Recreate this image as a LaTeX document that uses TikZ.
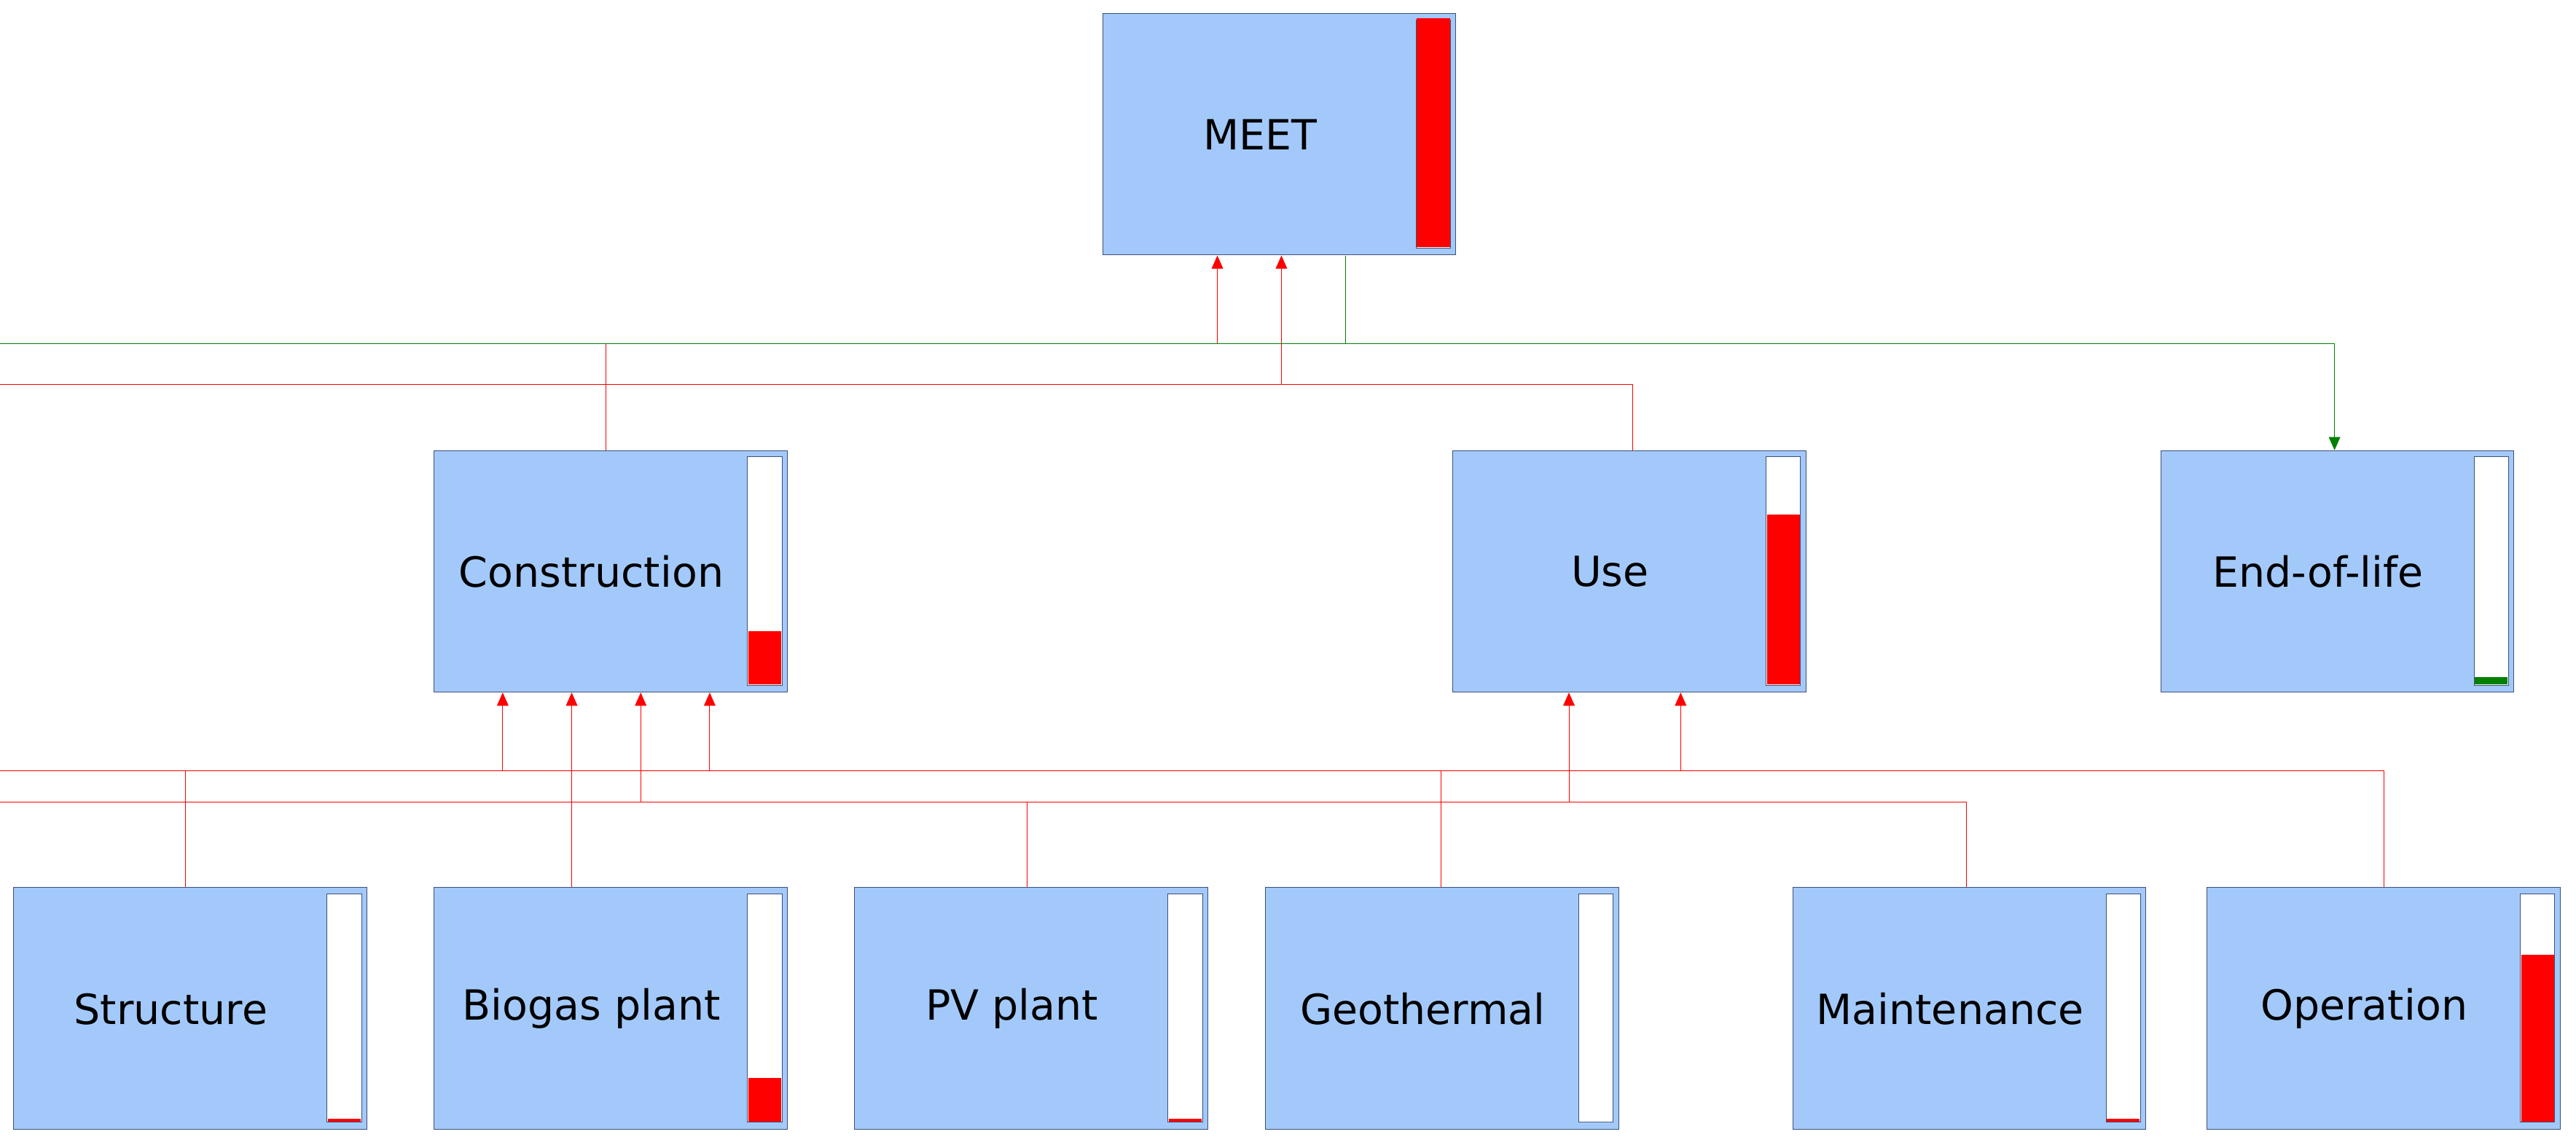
\documentclass[tikz,border=0pt]{standalone}
\usepackage{fontspec}
\setmainfont{DejaVu Sans}
\usetikzlibrary{arrows.meta}
\definecolor{boxfill}{RGB}{163,201,250}
\definecolor{boxline}{RGB}{60,80,120}
\definecolor{barred}{RGB}{255,0,0}
\definecolor{bargreen}{RGB}{0,128,0}
\tikzset{
  box/.style={draw=boxline,line width=0.6pt,fill=boxfill,minimum width=107.5mm,minimum height=73.5mm,inner sep=0pt,anchor=north west},
  lbl/.style={font=\fontsize{36}{40}\selectfont},
  barframe/.style={draw=boxline,line width=0.6pt,fill=white},
  link/.style={draw=barred,line width=0.6pt,-{Triangle[length=4mm,width=3.5mm]}},
  glink/.style={draw=bargreen,line width=0.6pt,-{Triangle[length=4mm,width=3.5mm]}}
}
% #1 name, #2 left x, #3 top y, #4 text, #5 fill-top y (bar), #6 colour
\newcommand{\blk}[6]{%
  \node[box] (#1) at (#2,#3) {};
  \draw[barframe] (#2+191,#3+4) rectangle (#2+212,#3+143);
  \fill[#6] (#2+191.5,#5) rectangle (#2+211.5,#3+142.5);
  \node[lbl] (#1t) at (#2+96,#3+74) {#4};
}
\begin{document}
\begin{tikzpicture}[x=0.5mm,y=-0.5mm]
\useasboundingbox (0,0) rectangle (1568,696.4);
\blk{meet}{671}{8}{MEET}{11}{barred}
\blk{cons}{264}{274}{Construction}{384}{barred}
\blk{use}{884}{274}{Use}{313}{barred}
\blk{eol}{1315}{274}{End-of-life}{412}{bargreen}
\blk{str}{8}{540}{Structure}{681}{barred}
\blk{bio}{264}{540}{Biogas plant}{656}{barred}
\blk{pv}{520}{540}{PV plant}{681}{barred}
\blk{geo}{770}{540}{Geothermal}{682.5}{white}
\blk{mai}{1091}{540}{Maintenance}{681}{barred}
\blk{ope}{1343}{540}{Operation}{581}{barred}
% coordinates
\coordinate (c1) at (369,274); \coordinate (m1) at (741,155.5);
\coordinate (c2) at (994,274); \coordinate (m2) at (780,155.5);
\coordinate (m3) at (819,155.5); \coordinate (e1) at (1421,274);
\coordinate (s1) at (113,540); \coordinate (k1) at (306,421.5);
\coordinate (b1) at (348,540); \coordinate (k2) at (348,421.5);
\coordinate (p1) at (625,540); \coordinate (k3) at (390,421.5);
\coordinate (g1) at (877,540); \coordinate (k4) at (432,421.5);
\coordinate (a1) at (1197,540); \coordinate (u1) at (955,421.5);
\coordinate (o1) at (1451,540); \coordinate (u2) at (1023,421.5);
\draw[link] (c1) |- (0,209) -| (m1);
\draw[link] (c2) |- (0,234) -| (m2);
\draw[glink] (m3) |- (0,209) -| (e1);
\draw[link] (s1) |- (0,469) -| (k1);
\draw[link] (b1) -- (k2);
\draw[link] (p1) |- (0,488) -| (k3);
\draw[link] (g1) |- (0,469) -| (k4);
\draw[link] (a1) |- (0,488) -| (u1);
\draw[link] (o1) |- (0,469) -| (u2);
\end{tikzpicture}
\end{document}
